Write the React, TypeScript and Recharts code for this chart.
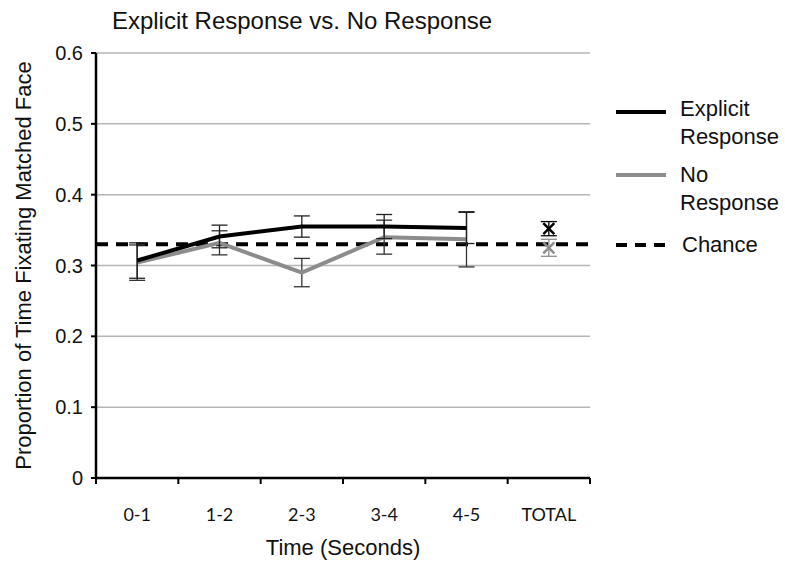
import { LineChart, Line, XAxis, YAxis, CartesianGrid, ErrorBar, ReferenceLine } from 'recharts';

const categories = ['0-1', '1-2', '2-3', '3-4', '4-5', 'TOTAL'];
const explicitMeans = [0.307, 0.341, 0.355, 0.355, 0.353, null];
const explicitErrors = [0.025, 0.016, 0.015, 0.017, 0.022, null];
const noResponseMeans = [0.304, 0.332, 0.29, 0.34, 0.337, null];
const noResponseErrors = [0.025, 0.017, 0.02, 0.024, 0.039, null];
const explicitTotal = [null, null, null, null, null, 0.352];
const explicitTotalError = [null, null, null, null, null, 0.01];
const noResponseTotal = [null, null, null, null, null, 0.325];
const noResponseTotalError = [null, null, null, null, null, 0.012];
const chanceLevel = 0.33;
const yTicks = [0, 0.1, 0.2, 0.3, 0.4, 0.5, 0.6];

// each category sits in the middle of its slot; tick marks go on the slot edges
const xTicks = categories.flatMap((_, i) => (i === categories.length - 1 ? [i, i + 0.5, i + 1] : [i, i + 0.5]));

const data = categories.map((name, i) => ({
  name,
  pos: i + 0.5,
  explicit: explicitMeans[i],
  explicitErr: explicitErrors[i],
  none: noResponseMeans[i],
  noneErr: noResponseErrors[i],
  explicitTotal: explicitTotal[i],
  explicitTotalErr: explicitTotalError[i],
  noneTotal: noResponseTotal[i],
  noneTotalErr: noResponseTotalError[i],
}));

const FONT = '"Liberation Sans", Arial, sans-serif';

function XTick(props: any) {
  const { x, y, payload } = props;
  const v = payload.value as number;
  if (Number.isInteger(v)) {
    return <line x1={x} x2={x} y1={y} y2={y + 6} stroke="#000" strokeWidth={2} />;
  }
  return (
    <text x={x} y={y + 43} textAnchor="middle" fontFamily="Lato, sans-serif" fontSize={18} fill="#111">
      {categories[Math.floor(v)]}
    </text>
  );
}

function CrossDot(color: string) {
  return (props: any) => {
    const { cx, cy, index } = props;
    if (cx == null || cy == null || Number.isNaN(cy)) return <g key={index} />;
    const s = 5.5;
    return (
      <g key={index} stroke={color} strokeWidth={2.5}>
        <line x1={cx - s} y1={cy - s} x2={cx + s} y2={cy + s} />
        <line x1={cx - s} y1={cy + s} x2={cx + s} y2={cy - s} />
      </g>
    );
  };
}

function LegendLine({ color, dashed }: { color: string; dashed?: boolean }) {
  return (
    <svg width={50} height={8} style={{ display: 'block' }}>
      <line
        x1={0}
        y1={4}
        x2={50}
        y2={4}
        stroke={color}
        strokeWidth={4}
        strokeDasharray={dashed ? '11 8' : undefined}
      />
    </svg>
  );
}

export default function App() {
  return (
    <div style={{ position: 'absolute', left: 0, top: 0, width: 785, height: 572, background: '#fff', fontFamily: FONT }}>
      <div style={{ position: 'absolute', left: 0, width: 604, top: 7, textAlign: 'center', fontSize: 24, color: '#111' }}>
        Explicit Response vs. No Response
      </div>
      <LineChart width={785} height={572} data={data} margin={{ top: 53, right: 195, bottom: 54, left: 0 }}>
        <CartesianGrid horizontal vertical={false} stroke="#b5b5b5" strokeWidth={1.5} />
        <XAxis
          dataKey="pos"
          type="number"
          domain={[0, categories.length]}
          ticks={xTicks}
          interval={0}
          height={40}
          tickSize={0}
          tickMargin={0}
          tickLine={false}
          axisLine={{ stroke: '#000', strokeWidth: 2.5 }}
          tick={<XTick />}
        />
        <YAxis
          domain={[0, 0.6]}
          ticks={yTicks}
          width={96}
          tickFormatter={(v: number) => (v === 0 ? '0' : v.toFixed(1))}
          axisLine={{ stroke: '#000', strokeWidth: 2.5 }}
          tickLine={{ stroke: '#000', strokeWidth: 2 }}
          tickSize={5}
          tickMargin={8}
          tick={{ fontFamily: FONT, fontSize: 20, fill: '#111' }}
          label={{
            value: 'Proportion of Time Fixating Matched Face',
            angle: -90,
            position: 'center',
            dx: -25,
            style: { fontFamily: FONT, fontSize: 22, fill: '#111' },
          }}
        />
        <ReferenceLine y={chanceLevel} stroke="#000" strokeWidth={4} strokeDasharray="12 8" />
        <Line
          dataKey="none"
          stroke="#8c8c8c"
          strokeWidth={4}
          dot={false}
          activeDot={false}
          isAnimationActive={false}
        >
          <ErrorBar dataKey="noneErr" width={8} stroke="#333" strokeWidth={1.3} direction="y" />
        </Line>
        <Line
          dataKey="explicit"
          stroke="#000"
          strokeWidth={4}
          dot={false}
          activeDot={false}
          isAnimationActive={false}
        >
          <ErrorBar dataKey="explicitErr" width={8} stroke="#222" strokeWidth={1.3} direction="y" />
        </Line>
        <Line
          dataKey="noneTotal"
          stroke="none"
          dot={CrossDot('#8c8c8c')}
          activeDot={false}
          isAnimationActive={false}
        >
          <ErrorBar dataKey="noneTotalErr" width={8} stroke="#8c8c8c" strokeWidth={1.3} direction="y" />
        </Line>
        <Line
          dataKey="explicitTotal"
          stroke="none"
          dot={CrossDot('#000')}
          activeDot={false}
          isAnimationActive={false}
        >
          <ErrorBar dataKey="explicitTotalErr" width={8} stroke="#000" strokeWidth={1.3} direction="y" />
        </Line>
      </LineChart>
      <div style={{ position: 'absolute', left: 96, width: 494, top: 535, textAlign: 'center', fontSize: 22, color: '#111' }}>
        Time (Seconds)
      </div>
      <div style={{ position: 'absolute', left: 616, top: 95, fontSize: 22, color: '#111', lineHeight: '28px' }}>
        <div style={{ display: 'flex', alignItems: 'flex-start' }}>
          <div style={{ marginTop: 13, marginRight: 14 }}><LegendLine color="#000" /></div>
          <div>Explicit<br />Response</div>
        </div>
        <div style={{ display: 'flex', alignItems: 'flex-start', marginTop: 10 }}>
          <div style={{ marginTop: 10, marginRight: 14 }}><LegendLine color="#8c8c8c" /></div>
          <div>No<br />Response</div>
        </div>
        <div style={{ display: 'flex', alignItems: 'center', marginTop: 14 }}>
          <div style={{ marginRight: 16 }}><LegendLine color="#000" dashed /></div>
          <div>Chance</div>
        </div>
      </div>
    </div>
  );
}
